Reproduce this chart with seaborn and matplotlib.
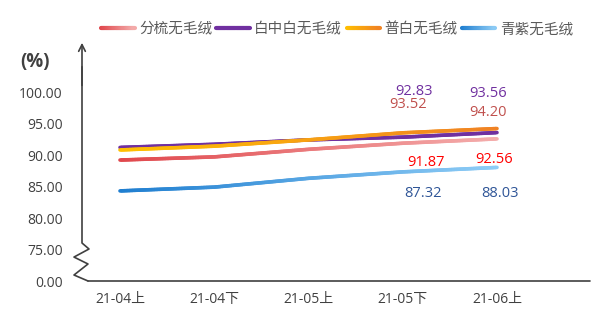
import numpy as np
import pandas as pd
import matplotlib
matplotlib.use("Agg")
import matplotlib.pyplot as plt
import seaborn as sns
from matplotlib.collections import LineCollection
from matplotlib.colors import to_rgb
from matplotlib.legend_handler import HandlerBase
from matplotlib.lines import Line2D
import matplotlib.transforms as mtransforms

categories = ["21-04上", "21-04下", "21-05上", "21-05下", "21-06上"]
series_names = ["分梳无毛绒", "白中白无毛绒", "普白无毛绒", "青紫无毛绒"]
fenshu = [89.2, 89.7, 90.9, 91.87, 92.56]
baizhongbai = [91.2, 91.7, 92.4, 92.83, 93.56]
pubai = [90.8, 91.4, 92.4, 93.52, 94.20]
qingzi = [84.3, 84.9, 86.3, 87.32, 88.03]
ytick_values = [70, 75, 80, 85, 90, 95, 100]
ytick_labels = ["0.00", "75.00", "80.00", "85.00", "90.00", "95.00", "100.00"]

sns.set_theme(style="white")
plt.rcParams["font.family"] = ["Open Sans", "Noto Sans CJK SC", "DejaVu Sans"]

df = pd.DataFrame({
    "cat": categories * 4,
    "x": list(range(len(categories))) * 4,
    "val": fenshu + baizhongbai + pubai + qingzi,
    "series": sum([[s] * len(categories) for s in series_names], []),
})

grad = {
    "分梳无毛绒": ("#e0474c", "#f4adac"),
    "白中白无毛绒": ("#7030a0", "#7030a0"),
    "普白无毛绒": ("#ffc000", "#f08224"),
    "青紫无毛绒": ("#1f7ed0", "#8fcdf6"),
}
mid = {k: v[0] for k, v in grad.items()}
LW = 2.6


def grad_segments(xd, yd, c0, c1, n=60):
    xs = np.concatenate([np.linspace(xd[i], xd[i + 1], n, endpoint=False) for i in range(len(xd) - 1)] + [[xd[-1]]])
    ys = np.interp(xs, xd, yd)
    pts = np.column_stack([xs, ys]).reshape(-1, 1, 2)
    segs = np.concatenate([pts[:-1], pts[1:]], axis=1)
    t = (xs[:-1] - xd[0]) / (xd[-1] - xd[0])
    c0, c1 = np.array(to_rgb(c0)), np.array(to_rgb(c1))
    cols = c0[None, :] * (1 - t[:, None]) + c1[None, :] * t[:, None]
    return segs, cols


fig = plt.figure(figsize=(6.0, 3.36), dpi=100)
ax = fig.add_axes([82 / 600, 1 - 281 / 336, 508 / 600, (281 - 40) / 336])
sns.lineplot(data=df, x="x", y="val", hue="series", palette=mid, ax=ax,
             linewidth=LW, legend=False, sort=False)

for line, name in zip(list(ax.lines), series_names):
    xd, yd = np.asarray(line.get_xdata(), float), np.asarray(line.get_ydata(), float)
    segs, cols = grad_segments(xd, yd, *grad[name])
    lc = LineCollection(segs, colors=cols, linewidths=LW, capstyle="round", zorder=3)
    ax.add_collection(lc)
    line.set_visible(False)

ax.set_xlim(-38 / 94.25, 4 + 93 / 94.25)
ax.set_ylim(70, 70 + (281 - 40) / 6.3)
for s in ax.spines.values():
    s.set_visible(False)
ax.set_xticks(range(len(categories)))
ax.set_xticklabels(categories, fontsize=10, color="#404040")
ax.set_yticks(ytick_values)
ax.set_yticklabels(ytick_labels, fontsize=10, color="#404040")
ax.tick_params(axis="y", length=0, pad=14)
ax.tick_params(axis="x", length=0, pad=8)
ax.set_xlabel("")
ax.set_ylabel("")
ax.grid(False)

# axes with break
trans = mtransforms.blended_transform_factory(ax.transAxes, ax.transData)
w = 508.0
bx = [0, 0, 7 / w, -8 / w, 6 / w, -8 / w, 6 / w]
by = [104, 76.03, 75.08, 73.8, 72.7, 70.95, 70]
ax.plot(bx, by, transform=trans, color="#404040", lw=1.2, clip_on=False, zorder=5)
ax.plot([6 / w, 1], [70, 70], transform=trans, color="#404040", lw=1.2, clip_on=False, zorder=5)
ax.annotate("", xy=(0, 1.0), xytext=(0, 0.8), xycoords="axes fraction",
            arrowprops=dict(arrowstyle="->", color="#404040", lw=1.2, mutation_scale=12))

fig.text(20 / 600, 1 - 62 / 336, "(%)", fontsize=13.5, fontweight="bold", color="#404040", va="center")

label_info = [
    ("白中白无毛绒", 3, (11, 46), "#7030a0"),
    ("白中白无毛绒", 4, (-9, 39), "#7030a0"),
    ("普白无毛绒", 3, (5, 28), "#c0504d"),
    ("普白无毛绒", 4, (-9, 16), "#c0504d"),
    ("分梳无毛绒", 3, (23, -19), "#ff0000"),
    ("分梳无毛绒", 4, (-3, -21), "#ff0000"),
    ("青紫无毛绒", 3, (20, -22), "#2f5597"),
    ("青紫无毛绒", 4, (3, -26), "#2f5597"),
]
for name, i, off, col in label_info:
    v = df[(df.series == name) & (df.x == i)]["val"].iloc[0]
    ax.annotate(f"{v:.2f}", xy=(i, v), xytext=off, textcoords="offset pixels",
                ha="center", va="center", fontsize=10.5, color=col)


class GradHandler(HandlerBase):
    def create_artists(self, legend, orig_handle, xdescent, ydescent, width, height, fontsize, trans):
        name = orig_handle.get_label()
        y = height / 2 - ydescent
        segs, cols = grad_segments(np.array([-xdescent, width - xdescent]), np.array([y, y]), *grad[name], n=30)
        lc = LineCollection(segs, colors=cols, linewidths=LW + 0.4, capstyle="round", transform=trans)
        return [lc]


handles = [Line2D([0], [0], color=grad[n][0], lw=LW, label=n) for n in series_names]
leg = fig.legend(handles, series_names, loc="center", bbox_to_anchor=(337 / 600, 1 - 29 / 336),
                 ncol=4, frameon=False, handlelength=2.3, handletextpad=0.3,
                 columnspacing=0.3, labelcolor="#595959",
                 prop={"family": ["Noto Sans CJK SC"], "size": 10.5},
                 handler_map={Line2D: GradHandler()})

fig.savefig("out.png", dpi=100)
